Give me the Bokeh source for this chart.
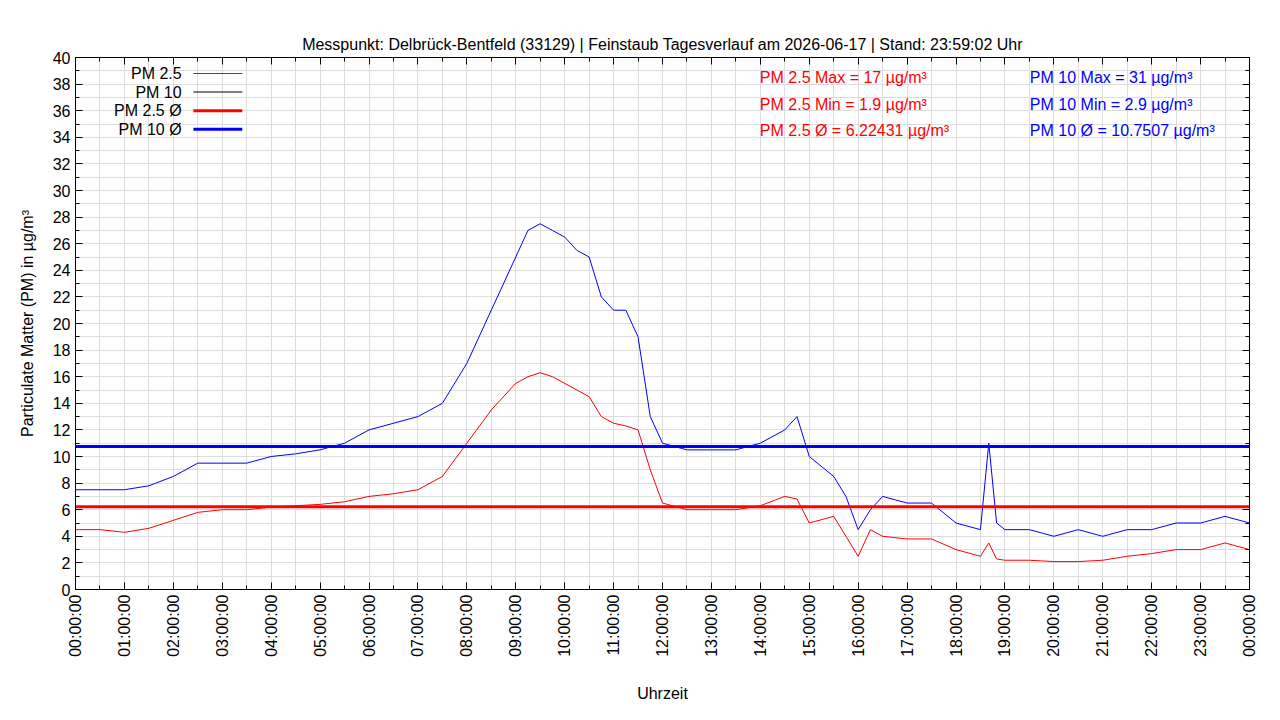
import numpy as np
from bokeh.plotting import figure
from bokeh.models import FixedTicker, SingleIntervalTicker, LinearAxis, Span, Label, BoxAnnotation, Range1d
from bokeh.embed import file_html
from bokeh.resources import INLINE

t = [0,0.5,1,1.5,2,2.5,3,3.5,4,4.5,5,5.5,6,6.5,7,7.5,8,8.5,9,9.25,9.5,9.75,10,10.25,10.5,10.75,11,11.25,11.5,11.75,
     12,12.5,13,13.5,14,14.5,14.75,15,15.5,15.75,16,16.25,16.5,17,17.5,18,18.5,18.67,18.83,19,19.5,20,20.5,21,21.5,22,22.5,23,23.5,24]
pm10 = [7.5,7.5,7.5,7.8,8.5,9.5,9.5,9.5,10,10.2,10.5,11,12,12.5,13,14,17,21,25,27,27.5,27,26.5,25.5,25,22,21,21,19,13,
        11,10.5,10.5,10.5,11,12,13,10,8.5,7,4.5,6,7,6.5,6.5,5,4.5,11,5,4.5,4.5,4,4.5,4,4.5,4.5,5,5,5.5,5]
pm25 = [4.5,4.5,4.3,4.6,5.2,5.8,6,6,6.2,6.3,6.4,6.6,7,7.2,7.5,8.5,11,13.5,15.5,16,16.3,16,15.5,15,14.5,13,12.5,12.3,12,9,
        6.5,6,6,6,6.3,7,6.8,5,5.5,4,2.5,4.5,4,3.8,3.8,3,2.5,3.5,2.3,2.2,2.2,2.1,2.1,2.2,2.5,2.7,3,3,3.5,3]
avg25 = 6.22431
avg10 = 10.7507
hour_labels = ["%02d:00:00" % (h % 24) for h in range(25)]
stats25 = ["PM 2.5 Max = 17 µg/m³", "PM 2.5 Min = 1.9 µg/m³", "PM 2.5 Ø = 6.22431 µg/m³"]
stats10 = ["PM 10 Max = 31 µg/m³", "PM 10 Min = 2.9 µg/m³", "PM 10 Ø = 10.7507 µg/m³"]
legend_names = ["PM 2.5", "PM 10", "PM 2.5 Ø", "PM 10 Ø"]
legend_colors = ["#ff0000", "#000000", "#ff0000", "#0000ff"]
legend_widths = [1, 1, 3, 3]

FONT = "Liberation Sans"
p = figure(width=1264, height=704, output_backend="svg", toolbar_location=None,
           x_range=Range1d(0, 24), y_range=Range1d(0, 40),
           min_border_left=75, min_border_right=15, min_border_top=57, min_border_bottom=107)
p.title.text = "Messpunkt: Delbrück-Bentfeld (33129) | Feinstaub Tagesverlauf am 2026-06-17 | Stand: 23:59:02 Uhr"
p.title.align = "center"
p.title.text_font = FONT
p.title.text_font_size = "16px"
p.title.text_font_style = "normal"
p.title.text_color = "black"
p.title.offset = 0
p.outline_line_color = "black"

xt = FixedTicker(ticks=list(range(25)), minor_ticks=[h + 0.5 for h in range(24)])
yt = SingleIntervalTicker(interval=2, num_minor_ticks=2)
p.xaxis.ticker = xt
p.yaxis.ticker = yt
p.xaxis.major_label_overrides = {i: hour_labels[i] for i in range(25)}
p.xaxis.major_label_orientation = np.pi / 2
p.xaxis.axis_label = "Uhrzeit"
p.yaxis.axis_label = "Particulate Matter (PM) in µg/m³"
for ax in [p.xaxis[0], p.yaxis[0]]:
    ax.major_label_text_font = FONT
    ax.major_label_text_font_size = "16px"
    ax.major_label_text_color = "black"
    ax.axis_label_text_font = FONT
    ax.axis_label_text_font_size = "16px"
    ax.axis_label_text_font_style = "normal"
    ax.axis_label_text_color = "black"
    ax.major_tick_in = 7; ax.major_tick_out = 0
    ax.minor_tick_in = 4; ax.minor_tick_out = 0
    ax.axis_line_color = "black"
p.xaxis.axis_label_standoff = 25
p.yaxis.axis_label_standoff = 14
for loc, tk in [("above", xt), ("right", yt)]:
    ax = LinearAxis(ticker=tk, major_label_text_font_size="0px", major_tick_in=7, major_tick_out=0,
                    minor_tick_in=4, minor_tick_out=0)
    p.add_layout(ax, loc)
p.xgrid.ticker = FixedTicker(ticks=[h * 0.5 for h in range(49)])
p.xgrid.grid_line_color = "#dddddd"
p.ygrid.grid_line_color = "#dddddd"
p.ygrid.minor_grid_line_color = "#dddddd"

p.line(t, pm25, color="#ff0000", line_width=1)
p.line(t, pm10, color="#0000ff", line_width=1)
p.add_layout(Span(location=avg25, dimension="width", line_color="#ff0000", line_width=3))
p.add_layout(Span(location=avg10, dimension="width", line_color="#0000ff", line_width=3))

ly = [38.8, 37.4, 36.0, 34.6]
for name, c, w, y in zip(legend_names, legend_colors, legend_widths, ly):
    p.add_layout(Label(x=2.17, y=y, text=name, text_align="right", text_baseline="middle",
                       text_font=FONT, text_font_size="16px", text_color="black"))
    hh = w / 13.5 / 2
    lc = "#ff0000" if name == "PM 2.5" else c
    p.add_layout(BoxAnnotation(left=2.41, right=3.41, bottom=y - hh, top=y + hh,
                               fill_color=lc, fill_alpha=1, line_alpha=0, level="overlay"))
sy = [38.5, 36.5, 34.5]
for s, y in zip(stats25, sy):
    p.add_layout(Label(x=13.99, y=y, text=s, text_baseline="middle", text_color="#ff0000",
                       text_font=FONT, text_font_size="16px"))
for s, y in zip(stats10, sy):
    p.add_layout(Label(x=19.51, y=y, text=s, text_baseline="middle", text_color="#0000ff",
                       text_font=FONT, text_font_size="16px"))

open("out.html", "w").write(file_html(p, INLINE))
